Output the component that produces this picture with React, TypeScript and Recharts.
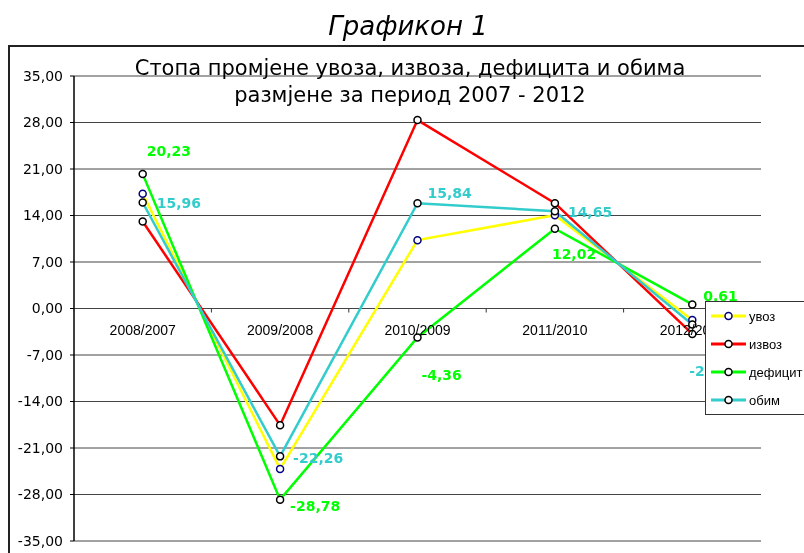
import {
  LineChart,
  Line,
  XAxis,
  YAxis,
  CartesianGrid,
  Legend,
  LabelList,
} from "recharts";

const periods = ["2008/2007", "2009/2008", "2010/2009", "2011/2010", "2012/2011"];
const uvoz = [17.26, -24.15, 10.29, 14.05, -1.72];
const izvoz = [13.1, -17.57, 28.36, 15.86, -3.83];
const deficit = [20.23, -28.78, -4.36, 12.02, 0.61];
const obim = [15.96, -22.26, 15.84, 14.65, -2.4];
const yTicks = [-35, -28, -21, -14, -7, 0, 7, 14, 21, 28, 35];

const data = periods.map((period, i) => ({
  period,
  uvoz: uvoz[i],
  izvoz: izvoz[i],
  deficit: deficit[i],
  obim: obim[i],
}));

const series = [
  { key: "uvoz", name: "увоз", color: "#ffff00", dot: "#000080" },
  { key: "izvoz", name: "извоз", color: "#ff0000", dot: "#000000" },
  { key: "deficit", name: "дефицит", color: "#00ff00", dot: "#000000" },
  { key: "obim", name: "обим", color: "#33cccc", dot: "#000000" },
];

// chart geometry
const W = 796;
const H = 545;
const M_TOP = 68;
const M_RIGHT = 43;
const Y_W = 66;
const X_H = 12;
const PLOT_W = W - Y_W - M_RIGHT;
const PLOT_H = H - M_TOP - X_H;
const ZERO_Y = M_TOP + PLOT_H / 2;
const BAND = PLOT_W / periods.length;

// label nudges (dx, dy from the point) as Excel placed them
const deficitNudge = [[4, -23], [10, 6], [4, 38], [-3, 25], [11, -8]];
const obimNudge = [[14, 1], [13, 2], [10, -10], [13, 1], [-3, 47]];

const fmt = (v: number) => v.toFixed(2).replace(".", ",");

const makeLabel = (color: string, nudge: number[][]) => (props: any) => {
  const { x, y, value, index } = props;
  const [dx, dy] = nudge[index] || [0, 0];
  return (
    <text
      x={x + dx}
      y={y + dy + 5}
      fill={color}
      fontSize={14}
      fontWeight="bold"
      fontFamily="DejaVu Sans"
    >
      {fmt(value)}
    </text>
  );
};

const XTick = (props: any) => {
  const { x, payload } = props;
  return (
    <g>
      <line x1={x - BAND / 2} x2={x - BAND / 2} y1={ZERO_Y} y2={ZERO_Y + 4} stroke="#333" />
      <text
        x={x}
        y={ZERO_Y + 26}
        textAnchor="middle"
        fontSize={14}
        fontFamily="Liberation Sans"
        fill="#000"
      >
        {payload.value}
      </text>
    </g>
  );
};

// the box runs off the right edge of the picture, so no right border
const LegendBox = () => (
  <div
    style={{
      borderTop: "1px solid #333",
      borderLeft: "1px solid #333",
      borderBottom: "1px solid #333",
      background: "#fff",
      width: 160,
      fontFamily: "Liberation Sans",
      fontSize: 13,
      whiteSpace: "nowrap",
    }}
  >
    {series.map((s) => (
      <div key={s.key} style={{ display: "flex", alignItems: "center", height: 28 }}>
        <svg width={42} height={28} style={{ flexShrink: 0 }}>
          <line x1={5} x2={40} y1={14} y2={14} stroke={s.color} strokeWidth={3} />
          <circle cx={22.5} cy={14} r={3.5} fill="#fff" stroke={s.dot} strokeWidth={1.5} />
        </svg>
        <span style={{ marginLeft: 1 }}>{s.name}</span>
      </div>
    ))}
  </div>
);

export default function App() {
  return (
    <div
      style={{
        position: "fixed",
        left: 8,
        top: 8,
        width: W,
        height: H,
        overflow: "hidden",
        fontFamily: "DejaVu Sans",
      }}
    >
      <LineChart
        width={W}
        height={H}
        data={data}
        margin={{ top: M_TOP, right: M_RIGHT, left: 0, bottom: 0 }}
      >
        <CartesianGrid vertical={false} stroke="#444" />
        <XAxis
          dataKey="period"
          height={X_H}
          axisLine={false}
          tickLine={false}
          interval={0}
          padding={{ left: BAND / 2, right: BAND / 2 }}
          tick={XTick}
        />
        <YAxis
          domain={[-35, 35]}
          ticks={yTicks}
          interval={0}
          width={Y_W}
          tickSize={4}
          tickMargin={7}
          tickFormatter={fmt}
          tick={{ fontSize: 14, fontFamily: "DejaVu Sans", fill: "#000" }}
          axisLine={{ stroke: "#000", strokeWidth: 1.5 }}
          tickLine={{ stroke: "#000" }}
        />
        <YAxis
          yAxisId="right"
          orientation="right"
          domain={[-35, 35]}
          ticks={yTicks}
          width={0}
          tick={false}
          tickLine={false}
          axisLine={{ stroke: "#888" }}
        />
        {series.map((s) => (
          <Line
            key={s.key}
            dataKey={s.key}
            name={s.name}
            type="linear"
            stroke={s.color}
            strokeWidth={2.5}
            dot={{ r: 3.5, fill: "#fff", stroke: s.dot, strokeWidth: 1.5 }}
            activeDot={false}
            isAnimationActive={false}
          >
            {s.key === "deficit" && (
              <LabelList dataKey="deficit" content={makeLabel("#00ff00", deficitNudge)} />
            )}
            {s.key === "obim" && (
              <LabelList dataKey="obim" content={makeLabel("#33cccc", obimNudge)} />
            )}
          </Line>
        ))}
        <Legend
          layout="horizontal"
          verticalAlign="middle"
          align="center"
          content={() => <LegendBox />}
          wrapperStyle={{ position: "absolute", left: 697, top: 293, width: 162 }}
        />
      </LineChart>
      <svg
        width={W}
        height={H}
        style={{ position: "absolute", left: 0, top: 0, pointerEvents: "none" }}
      >
        <path d={`M1,${H} L1,38 L${W},38`} fill="none" stroke="#222" strokeWidth={2} />
        <text
          x={400}
          y={27}
          textAnchor="middle"
          fontSize={26}
          fontStyle="italic"
          fontFamily="DejaVu Sans"
          fill="#000"
        >
          Графикон 1
        </text>
        <text x={402} y={67} textAnchor="middle" fontSize={21} fontFamily="DejaVu Sans" fill="#000">
          Стопа промјене увоза, извоза, дефицита и обима
        </text>
        <text x={402} y={94} textAnchor="middle" fontSize={21} fontFamily="DejaVu Sans" fill="#000">
          размјене за период 2007 - 2012
        </text>
      </svg>
    </div>
  );
}
